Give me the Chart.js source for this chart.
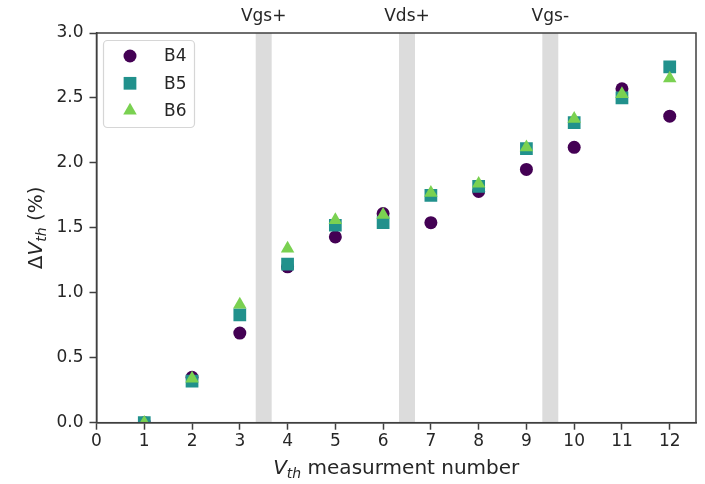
<!DOCTYPE html>
<html lang="en">
<head>
  <meta charset="UTF-8">
  <title>Delta Vth vs measurement number</title>
  <style>
    html, body { margin: 0; padding: 0; background: #fff; }
    canvas { display: block; }
  </style>
</head>
<body>
  <canvas id="chart" width="705" height="484"></canvas>

  <script src="https://cdn.jsdelivr.net/npm/chart.js"></script>
  <script>
    // measurement index and threshold shift (%) per device
    const measurements = [1, 2, 3, 4, 5, 6, 7, 8, 9, 10, 11, 12];
    const b4 = [0, 0.35, 0.69, 1.20, 1.43, 1.61, 1.54, 1.78, 1.95, 2.12, 2.57, 2.36];
    const b5 = [0, 0.32, 0.83, 1.22, 1.52, 1.54, 1.75, 1.82, 2.11, 2.31, 2.50, 2.74];
    const b6 = [0, 0.34, 0.91, 1.34, 1.56, 1.60, 1.77, 1.84, 2.12, 2.34, 2.53, 2.65];

    // stress phases between measurements
    const stressLabels = ['Vgs+', 'Vds+', 'Vgs-'];
    const stressStart = [3.333, 6.333, 9.333];
    const stressEnd = [3.667, 6.667, 9.667];

    const yTicks = [0, 0.5, 1.0, 1.5, 2.0, 2.5, 3.0];

    const FONT = '"DejaVu Sans", sans-serif';
    const TEXT = '#262626';
    const SPINE = '#3f3f3f';

    function pts(ys) {
      return measurements.map((x, i) => ({x: x, y: ys[i]}));
    }

    // draws a run of text pieces (italic / subscript) starting at x, baseline y
    function richText(ctx, parts, size, x, y) {
      let cx = x;
      parts.forEach(p => {
        const s = p.sub ? size * 0.7 : size;
        ctx.font = (p.italic ? 'italic ' : '') + s + 'px ' + FONT;
        ctx.fillText(p.t, cx, y + (p.sub ? size * 0.22 : 0));
        cx += ctx.measureText(p.t).width;
      });
      return cx - x;
    }
    function richWidth(ctx, parts, size) {
      let w = 0;
      parts.forEach(p => {
        const s = p.sub ? size * 0.7 : size;
        ctx.font = (p.italic ? 'italic ' : '') + s + 'px ' + FONT;
        w += ctx.measureText(p.t).width;
      });
      return w;
    }

    const stressBands = {
      id: 'stressBands',
      beforeDatasetsDraw(chart) {
        const {ctx, chartArea: a, scales: {x}} = chart;
        ctx.save();
        ctx.fillStyle = '#dcdcdc';
        for (let i = 0; i < stressStart.length; i++) {
          const x0 = x.getPixelForValue(stressStart[i]);
          const x1 = x.getPixelForValue(stressEnd[i]);
          ctx.fillRect(x0, a.top, x1 - x0, a.bottom - a.top);
        }
        ctx.restore();
      },
      afterDraw(chart) {
        const {ctx, chartArea: a, scales: {x}} = chart;
        ctx.save();
        ctx.fillStyle = TEXT;
        ctx.font = '17px ' + FONT;
        ctx.textAlign = 'center';
        ctx.textBaseline = 'alphabetic';
        for (let i = 0; i < stressLabels.length; i++) {
          const c = x.getPixelForValue((stressStart[i] + stressEnd[i]) / 2);
          ctx.fillText(stressLabels[i], c, a.top - 12);
        }
        ctx.restore();
      }
    };

    const frameAndTitles = {
      id: 'frameAndTitles',
      afterDraw(chart) {
        const {ctx, chartArea: a} = chart;
        ctx.save();
        ctx.strokeStyle = SPINE;
        ctx.lineWidth = 1.5;
        ctx.strokeRect(a.left, a.top, a.right - a.left, a.bottom - a.top);

        ctx.fillStyle = TEXT;
        ctx.textAlign = 'left';
        ctx.textBaseline = 'alphabetic';

        // x title
        const xt = [{t: 'V', italic: true}, {t: 'th', italic: true, sub: true}, {t: ' measurment number'}];
        const xw = richWidth(ctx, xt, 20);
        richText(ctx, xt, 20, (a.left + a.right) / 2 - xw / 2, 474);

        // y title, rotated
        const yt = [{t: 'Δ'}, {t: 'V', italic: true}, {t: 'th', italic: true, sub: true}, {t: ' (%)'}];
        const yw = richWidth(ctx, yt, 20);
        ctx.translate(42, (a.top + a.bottom) / 2);
        ctx.rotate(-Math.PI / 2);
        richText(ctx, yt, 20, -yw / 2, 0);
        ctx.restore();
      }
    };

    const boxLegend = {
      id: 'boxLegend',
      afterDraw(chart) {
        const ctx = chart.ctx;
        const left = 103.5, top = 40.5, w = 91, h = 87, r = 4;
        ctx.save();
        ctx.fillStyle = 'rgba(255,255,255,0.85)';
        ctx.strokeStyle = '#d6d6d6';
        ctx.lineWidth = 1.2;
        ctx.beginPath();
        ctx.roundRect(left, top, w, h, r);
        ctx.fill();
        ctx.stroke();
        ctx.font = '17px ' + FONT;
        ctx.textBaseline = 'middle';
        ctx.textAlign = 'left';
        const byLabel = ['B4', 'B5', 'B6'];
        byLabel.forEach((lbl, i) => {
          const ds = chart.data.datasets.find(d => d.label === lbl);
          const y = 56 + i * 27.3;
          ctx.fillStyle = ds.backgroundColor;
          Chart.helpers.drawPoint(ctx, {
            pointStyle: ds.pointStyle, radius: ds.pointRadius, rotation: 0, borderWidth: 0
          }, 130, y);
          ctx.fillStyle = TEXT;
          ctx.fillText(lbl, 164, y + 1);
        });
        ctx.restore();
      }
    };

    const ctx = document.getElementById('chart').getContext('2d');
    new Chart(ctx, {
      type: 'scatter',
      data: {
        datasets: [
          { label: 'B4', data: pts(b4), backgroundColor: '#440154', pointStyle: 'circle',
            pointRadius: 6.5, pointHoverRadius: 6.5, pointBorderWidth: 0, order: 2, clip: 0 },
          { label: 'B5', data: pts(b5), backgroundColor: '#21918c', pointStyle: 'rect',
            pointRadius: 9, pointHoverRadius: 9, pointBorderWidth: 0, order: 1, clip: 0 },
          { label: 'B6', data: pts(b6), backgroundColor: '#7ad151', pointStyle: 'triangle',
            pointRadius: 7.8, pointHoverRadius: 7.8, pointBorderWidth: 0, order: 0, clip: 0 }
        ]
      },
      options: {
        responsive: false,
        animation: false,
        devicePixelRatio: 1,
        layout: { padding: { top: 33, right: 9, left: 0, bottom: 0 } },
        plugins: { legend: { display: false }, tooltip: { enabled: false } },
        scales: {
          x: {
            type: 'linear', min: 0, max: 12.55,
            afterFit(s) { s.height = 61.3; },
            ticks: { stepSize: 1, includeBounds: false, color: TEXT, padding: 2,
                     font: { family: FONT, size: 17 } },
            grid: { display: true, drawOnChartArea: false, drawTicks: true, tickLength: 7,
                    tickColor: SPINE, tickWidth: 1.5 },
            border: { display: true, color: SPINE, width: 1.5 }
          },
          y: {
            min: 0, max: 3,
            afterFit(s) { s.width = 96.5; },
            afterBuildTicks(s) { s.ticks = yTicks.map(v => ({value: v})); },
            ticks: { color: TEXT, padding: 6, font: { family: FONT, size: 17 },
                     callback: v => v.toFixed(1) },
            grid: { display: true, drawOnChartArea: false, drawTicks: true, tickLength: 7,
                    tickColor: SPINE, tickWidth: 1.5 },
            border: { display: true, color: SPINE, width: 1.5 }
          }
        }
      },
      plugins: [stressBands, frameAndTitles, boxLegend]
    });
  </script>
</body>
</html>
